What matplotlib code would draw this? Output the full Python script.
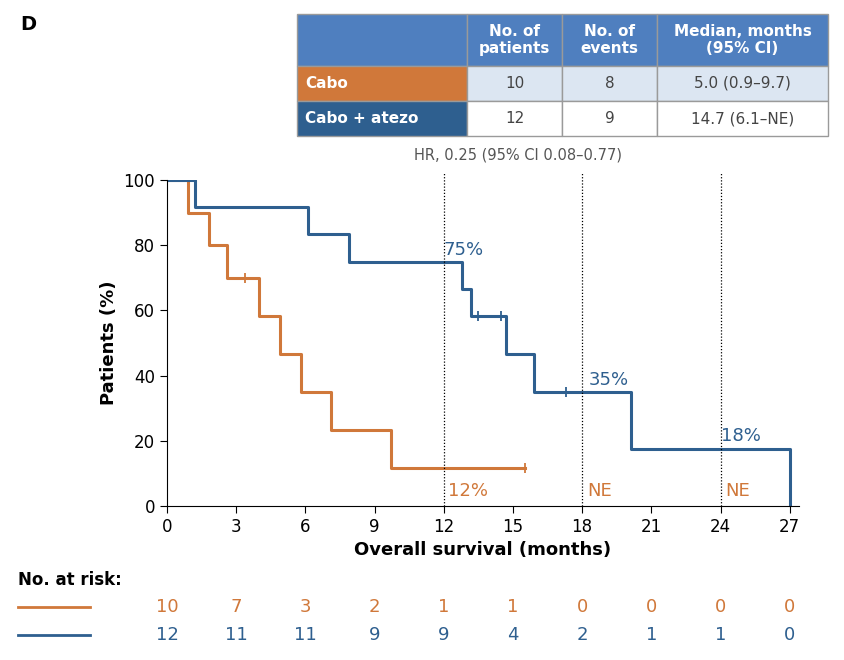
import matplotlib
matplotlib.use("Agg")
import matplotlib.pyplot as plt
from matplotlib.patches import Rectangle
import matplotlib.transforms as mtrans

ORANGE = "#D0783A"
BLUE = "#2E5F8F"
HEAD = "#4F7FBF"

# Kaplan-Meier steps (month, survival %)
cabo_t = [0, 0.9, 1.8, 2.6, 4.0, 4.9, 5.8, 7.1, 9.7, 15.5]
cabo_s = [100, 90, 80, 70, 58.3, 46.7, 35, 23.3, 11.7, 11.7]
cabo_cens_t = [3.4, 15.5]
cabo_cens_s = [70, 11.7]

combo_t = [0, 1.2, 6.1, 7.9, 12.8, 13.2, 14.7, 15.9, 20.1, 27.0]
combo_s = [100, 91.7, 83.3, 75, 66.7, 58.3, 46.7, 35, 17.5, 0]
combo_cens_t = [13.5, 14.5, 17.3]
combo_cens_s = [58.3, 58.3, 35]

risk_times = [0, 3, 6, 9, 12, 15, 18, 21, 24, 27]
risk_cabo = [10, 7, 3, 2, 1, 1, 0, 0, 0, 0]
risk_combo = [12, 11, 11, 9, 9, 4, 2, 1, 1, 0]

tbl_header = ["", "No. of\npatients", "No. of\nevents", "Median, months\n(95% CI)"]
tbl_rows = [["Cabo", "10", "8", "5.0 (0.9\u20139.7)"],
            ["Cabo + atezo", "12", "9", "14.7 (6.1\u2013NE)"]]

fig = plt.figure(figsize=(8.44, 6.6), dpi=100)
W, H = 844, 660
ax = fig.add_axes([167 / W, 1 - 506 / H, 632 / W, 326 / H])

ax.step(cabo_t, cabo_s, where="post", color=ORANGE, lw=2.2)
ax.plot(cabo_cens_t, cabo_cens_s, "|", color=ORANGE, ms=7, mew=1.3)
ax.step(combo_t, combo_s, where="post", color=BLUE, lw=2.2)
ax.plot(combo_cens_t, combo_cens_s, "|", color=BLUE, ms=7, mew=1.3)

for m in [12, 18, 24]:
    ax.plot([m, m], [0, 102], ls=(0, (1, 1.5)), color="black", lw=0.9, clip_on=False)

ax.text(12.0, 77, "75%", color=BLUE, fontsize=13)
ax.text(18.3, 37, "35%", color=BLUE, fontsize=13)
ax.text(24.0, 20, "18%", color=BLUE, fontsize=13)
ax.text(12.2, 3, "12%", color=ORANGE, fontsize=13)
ax.text(18.2, 3, "NE", color=ORANGE, fontsize=13)
ax.text(24.2, 3, "NE", color=ORANGE, fontsize=13)

ax.set_xlim(0, 27.4)
ax.set_ylim(0, 100)
ax.set_xticks(risk_times)
ax.set_yticks(range(0, 101, 20))
ax.tick_params(labelsize=12, length=5)
ax.spines["top"].set_visible(False)
ax.spines["right"].set_visible(False)
ax.set_xlabel("Overall survival (months)", fontsize=13, fontweight="bold", labelpad=4)
ax.set_ylabel("Patients (%)", fontsize=13, fontweight="bold")

# at-risk table
tr = mtrans.blended_transform_factory(ax.transData, fig.transFigure)
fig.text(18 / W, 1 - 580 / H, "No. at risk:", fontsize=12, fontweight="bold", va="center")
for y, vals, c in [(607, risk_cabo, ORANGE), (635, risk_combo, BLUE)]:
    yy = 1 - y / H
    fig.add_artist(plt.Line2D([18 / W, 90 / W], [yy, yy], color=c, lw=2))
    for t, v in zip(risk_times, vals):
        fig.text(t, yy, str(v), transform=tr, color=c, fontsize=13, ha="center", va="center")

# summary table on top
cols = [297, 467, 562, 657, 828]
rows = [14, 66, 101, 136]
def box(x0, x1, y0, y1, fc):
    fig.add_artist(Rectangle((x0 / W, 1 - y1 / H), (x1 - x0) / W, (y1 - y0) / H,
                             transform=fig.transFigure, fc=fc, ec="#9a9a9a", lw=1))
for j in range(4):
    box(cols[j], cols[j + 1], rows[0], rows[1], HEAD)
    if j:
        fig.text((cols[j] + cols[j + 1]) / 2 / W, 1 - 40 / H, tbl_header[j], color="white",
                 fontsize=11, fontweight="bold", ha="center", va="center", linespacing=1.1)
for i, row in enumerate(tbl_rows):
    y0, y1 = rows[i + 1], rows[i + 2]
    box(cols[0], cols[1], y0, y1, ORANGE if i == 0 else BLUE)
    fig.text((cols[0] + 8) / W, 1 - (y0 + y1) / 2 / H, row[0], color="white", fontsize=11,
             fontweight="bold", va="center")
    for j in range(1, 4):
        box(cols[j], cols[j + 1], y0, y1, "#DCE6F2" if i == 0 else "white")
        fig.text((cols[j] + cols[j + 1]) / 2 / W, 1 - (y0 + y1) / 2 / H, row[j], color="#444444",
                 fontsize=11, ha="center", va="center")
fig.text(518 / W, 1 - 155 / H, "HR, 0.25 (95% CI 0.08\u20130.77)", color="#555555", fontsize=10.5,
         ha="center", va="center")
fig.text(20 / W, 1 - 25 / H, "D", fontsize=14, fontweight="bold", va="center")

fig.savefig("out.png", dpi=100)
